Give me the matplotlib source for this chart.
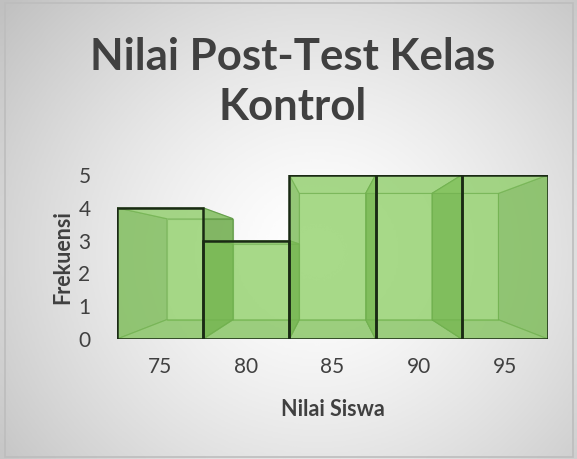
import matplotlib as mpl
import matplotlib.pyplot as plt
import numpy as np
from matplotlib.patches import Polygon, Rectangle

mpl.use("Agg")

# data
categories = ["75", "80", "85", "90", "95"]
frekuensi = [4, 3, 5, 5, 5]

XLABEL = "Nilai Siswa"
YLABEL = "Frekuensi"

W, H = 577, 459
FONT = "Lato"
TEXT_COL = "#404040"

# perspective of Excel 3D columns: vanishing point (data coords) and depth scale
VP = (2.0, 2.56)
DEPTH = 0.77


def _back(pt):
    return (VP[0] + DEPTH * (pt[0] - VP[0]), VP[1] + DEPTH * (pt[1] - VP[1]))


fig = plt.figure(figsize=(W / 100, H / 100), dpi=100)

# radial gradient background
bg = fig.add_axes([0, 0, 1, 1], zorder=0)
yy, xx = np.mgrid[0:1:200j, 0:1:250j]
r = np.sqrt((xx - 0.55) ** 2 + ((yy - 0.45) * 0.85) ** 2)
shade = np.clip(1.0 - 0.25 * (r / r.max()) ** 1.4, 0, 1)
bg.imshow(shade, cmap="gray", vmin=0, vmax=1, extent=[0, 1, 0, 1],
          aspect="auto", origin="lower", interpolation="bicubic")
bg.set_xlim(0, 1)
bg.set_ylim(0, 1)
bg.axis("off")
bg.add_patch(Rectangle((5 / W, 2 / H), 568 / W, 454 / H, fill=False,
                       edgecolor="#bdbdbd", linewidth=1.2))

ax = fig.add_axes([117 / W, 1 - 339 / H, 431 / W, 164 / H], zorder=1)
ax.patch.set_alpha(0)

x = np.arange(len(categories))
width = 1.0

# 3D box faces behind the front faces
for xi, v in zip(x, frekuensi):
    x0, x1 = xi - width / 2, xi + width / 2
    fl, fr, tr, tl = (x0, 0), (x1, 0), (x1, v), (x0, v)
    bl, br, btr, btl = _back(fl), _back(fr), _back(tr), _back(tl)
    faces = [
        ([bl, br, btr, btl], "#9ad674", 0.6),  # back
        ([fl, bl, btl, tl], "#5a9a38", 0.6),  # left side
        ([fr, br, btr, tr], "#5a9a38", 0.6),  # right side
        ([tl, tr, btr, btl], "#8ccb66", 0.55),  # top
        ([fl, fr, br, bl], "#6aaa46", 0.55),  # bottom
    ]
    for pts, col, a in faces:
        ax.add_patch(Polygon(pts, closed=True, facecolor=col, alpha=a,
                             edgecolor="#4f8f34", linewidth=0.8, zorder=1))

ax.bar(x, frekuensi, width=width, color="#8fcf68", alpha=0.5,
       edgecolor="none", zorder=2)
ax.bar(x, frekuensi, width=width, facecolor="none",
       edgecolor="#1a2a14", linewidth=1.8, zorder=3)

ax.set_xlim(-0.5, 4.5)
ax.set_ylim(0, 5)
ax.set_xticks(x)
ax.set_xticklabels(categories)
ax.set_yticks(range(0, 6))
for lab in ax.get_xticklabels() + ax.get_yticklabels():
    lab.set_fontfamily(FONT)
    lab.set_fontsize(15)
    lab.set_color(TEXT_COL)
ax.tick_params(length=0)
ax.tick_params(axis="x", pad=13)
ax.tick_params(axis="y", pad=19)
for s in ax.spines.values():
    s.set_visible(False)

fig.text(293 / W, 1 - 57 / H, "Nilai Post-Test Kelas", ha="center", va="center",
         fontsize=31.5, fontweight="bold", family=FONT, color=TEXT_COL)
fig.text(293 / W, 1 - 107 / H, "Kontrol", ha="center", va="center",
         fontsize=31.5, fontweight="bold", family=FONT, color=TEXT_COL)
fig.text(333 / W, 1 - 410 / H, XLABEL, ha="center", va="center",
         fontsize=15.5, fontweight="bold", family=FONT, color=TEXT_COL)
fig.text(63 / W, 1 - 257 / H, YLABEL, ha="center", va="center", rotation=90,
         fontsize=15.5, fontweight="bold", family=FONT, color=TEXT_COL)

fig.savefig("out.png", dpi=100)
